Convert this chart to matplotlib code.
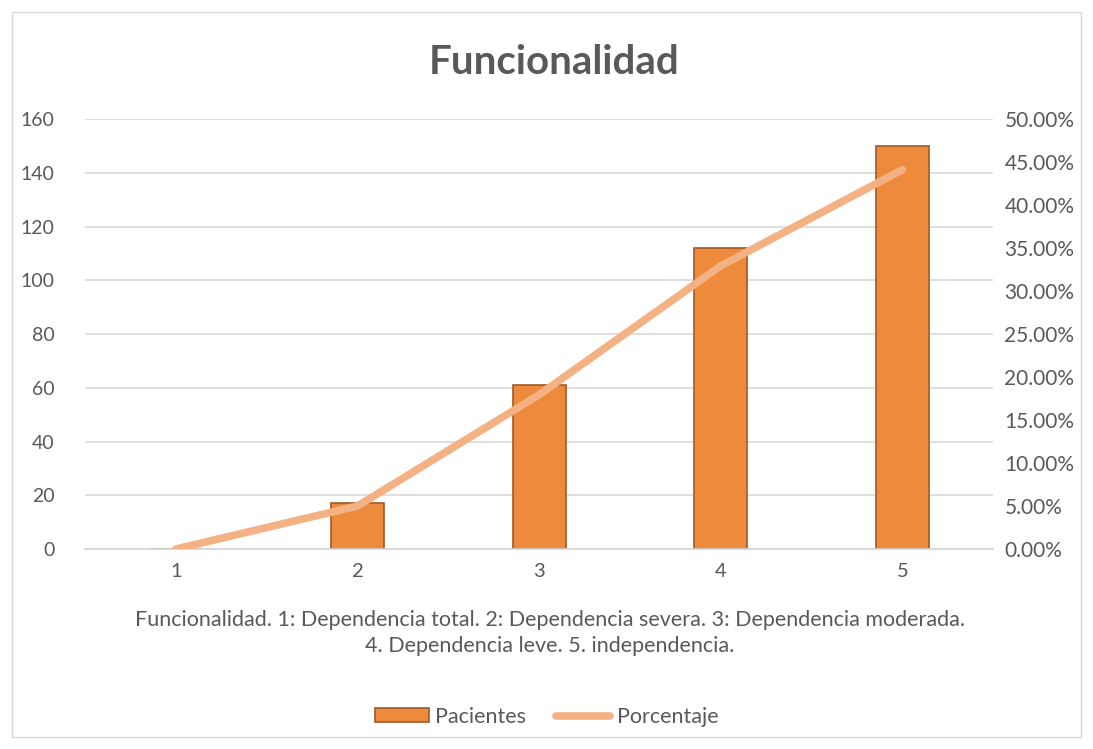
import numpy as np
import matplotlib.pyplot as plt
from matplotlib.patches import Rectangle
from matplotlib.ticker import FuncFormatter, MultipleLocator

# datos
categorias = [1, 2, 3, 4, 5]
pacientes = [0, 17, 61, 112, 150]
total = sum(pacientes)
porcentaje = [p / total for p in pacientes]

gris = "#595959"
plt.rcParams['font.family'] = ['Lato', 'DejaVu Sans']

fig = plt.figure(figsize=(10.93, 7.49), dpi=100)
ax = fig.add_axes([0.0778, 0.267, 0.831, 0.574])
ax2 = ax.twinx()

# borde exterior del grafico
fig.patches.append(Rectangle((0.011, 0.016), 0.978, 0.968, transform=fig.transFigure,
                             fill=False, edgecolor="#D9D9D9", linewidth=1))

ax.bar(categorias, pacientes, width=0.29, color="#EE8A3C", edgecolor="#9E5A28",
       linewidth=1.2, zorder=3, label="Pacientes")
ax.set_xlim(0.5, 5.5)
ax.set_ylim(0, 160)
ax.yaxis.set_major_locator(MultipleLocator(20))
ax.grid(axis="y", color="#D9D9D9", linewidth=1.2, zorder=0)
ax.set_axisbelow(True)

ax2.plot(categorias, porcentaje, color="#F4B183", linewidth=5.5, solid_capstyle="round",
         zorder=4, label="Porcentaje")
ax2.set_ylim(0, 0.5)
ax2.yaxis.set_major_locator(MultipleLocator(0.05))
ax2.yaxis.set_major_formatter(FuncFormatter(lambda v, _: f"{v*100:.2f}%"))

for a in (ax, ax2):
    for s in ("top", "left", "right"):
        a.spines[s].set_visible(False)
    a.spines["bottom"].set_color("#D9D9D9")
    a.spines["bottom"].set_linewidth(1.2)
    a.tick_params(length=0, labelsize=15, colors=gris, pad=8)
ax.tick_params(axis="y", pad=22, labelsize=14)
ax.tick_params(axis="x", pad=10, labelsize=14.5)
ax.set_zorder(ax2.get_zorder() - 1)
ax.patch.set_visible(False)
ax2.patch.set_visible(False)
ax.set_xticks(categorias)

fig.text(0.507, 0.917, "Funcionalidad", ha="center", va="center", fontsize=29,
         fontweight="bold", color=gris)
fig.text(0.503, 0.155,
         "Funcionalidad. 1: Dependencia total. 2: Dependencia severa. 3: Dependencia moderada.\n"
         "4. Dependencia leve. 5. independencia.",
         ha="center", va="center", fontsize=15.5, color=gris, linespacing=1.4)

h1, l1 = ax.get_legend_handles_labels()
h2, l2 = ax2.get_legend_handles_labels()
fig.legend(h1 + h2, l1 + l2, loc="center", bbox_to_anchor=(0.5, 0.043), ncol=2,
           frameon=False, fontsize=15.5, labelcolor=gris, handlelength=2.5,
           handleheight=0.6, columnspacing=1.4, handletextpad=0.3)

fig.savefig("out.png", dpi=100)
